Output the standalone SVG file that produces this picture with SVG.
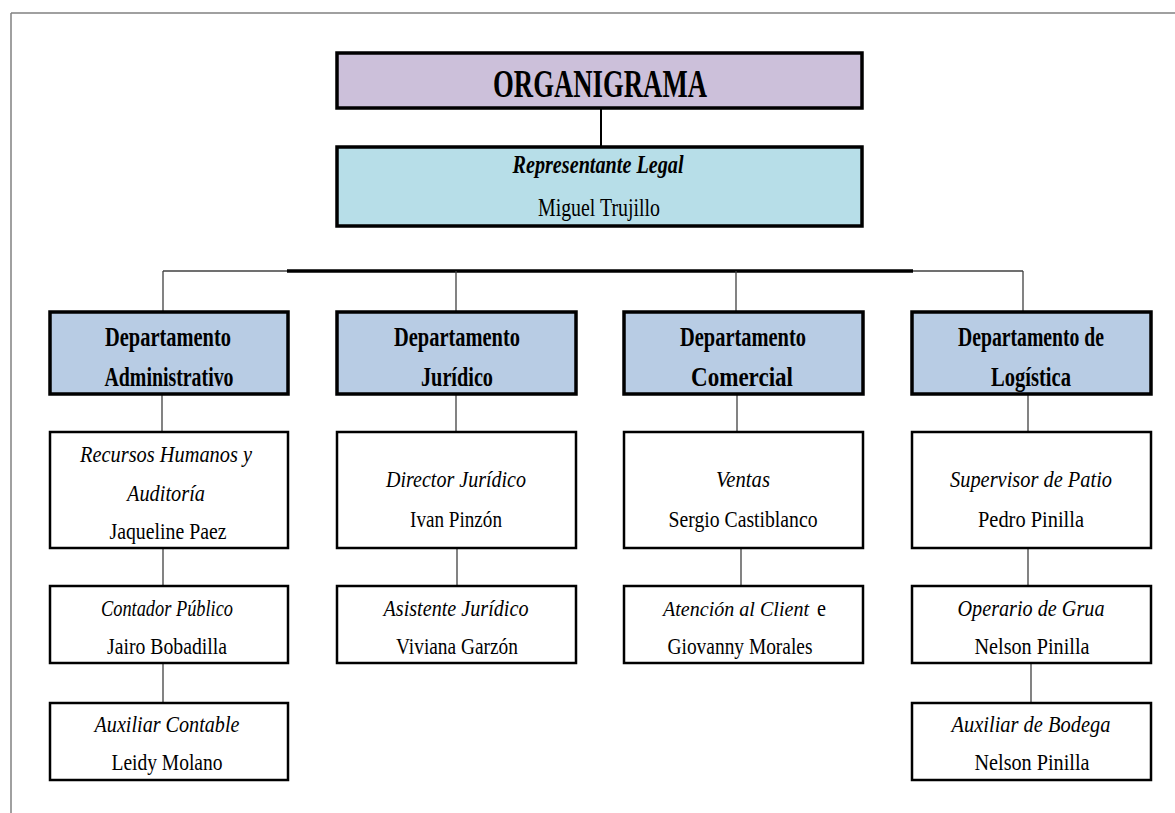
<svg xmlns="http://www.w3.org/2000/svg" width="1175" height="813" viewBox="0 0 1175 813">
<style>
  text { font-family: "Liberation Serif", "Times New Roman", serif; fill: #000; text-anchor: middle; }
  .frame { stroke: #808080; stroke-width: 1.5; fill: none; }
  .title { fill: #CCC0DA; stroke: #000; stroke-width: 3.5; }
  .rep { fill: #B7DEE8; stroke: #000; stroke-width: 3.5; }
  .dept { fill: #B8CCE4; stroke: #000; stroke-width: 3.5; }
  .pos { fill: #FFFFFF; stroke: #000; stroke-width: 2.5; }
  .t-title { font-size: 41px; font-weight: bold; }
  .t-rep { font-size: 26px; }
  .t-dept { font-size: 28px; font-weight: bold; }
  .t-pos { font-size: 23px; }
  .it { font-style: italic; }
  .conn { stroke: #404040; stroke-width: 1.3; fill: none; }
  .conn-main { stroke: #000; stroke-width: 2; fill: none; }
  .bar { stroke: #000; stroke-width: 3.5; fill: none; }
</style>

<g id="frame">
  <line class="frame" x1="11" y1="13" x2="1175" y2="13"/>
  <line class="frame" x1="11" y1="13" x2="11" y2="813"/>
</g>

<g id="connectors">
  <line class="conn-main" x1="601" y1="108" x2="601" y2="147"/>
  <line class="conn" x1="163" y1="271" x2="1023" y2="271"/>
  <line class="bar" x1="287" y1="271" x2="913" y2="271"/>
  <line class="conn" x1="163" y1="271" x2="163" y2="312"/>
  <line class="conn" x1="456" y1="271" x2="456" y2="312"/>
  <line class="conn" x1="736" y1="271" x2="736" y2="312"/>
  <line class="conn" x1="1023" y1="271" x2="1023" y2="312"/>
  <line class="conn" x1="162" y1="394" x2="162" y2="431"/>
  <line class="conn" x1="456" y1="394" x2="456" y2="431"/>
  <line class="conn" x1="737" y1="394" x2="737" y2="431"/>
  <line class="conn" x1="1028" y1="394" x2="1028" y2="431"/>
  <line class="conn" x1="163" y1="548" x2="163" y2="586"/>
  <line class="conn" x1="457" y1="548" x2="457" y2="586"/>
  <line class="conn" x1="741" y1="548" x2="741" y2="586"/>
  <line class="conn" x1="1028" y1="548" x2="1028" y2="586"/>
  <line class="conn" x1="163" y1="663" x2="163" y2="703"/>
  <line class="conn" x1="1031" y1="663" x2="1031" y2="703"/>
</g>

<g id="node-title">
  <rect class="title" x="337" y="53" width="525" height="55"/>
  <text class="t-title" x="600" y="97" textLength="214" lengthAdjust="spacingAndGlyphs">ORGANIGRAMA</text>
</g>

<g id="node-rep">
  <rect class="rep" x="337" y="147" width="525" height="79"/>
  <text class="t-rep it" x="598" y="173" font-weight="bold" textLength="171" lengthAdjust="spacingAndGlyphs">Representante Legal</text>
  <text class="t-rep" x="599" y="216" textLength="122" lengthAdjust="spacingAndGlyphs">Miguel Trujillo</text>
</g>

<g id="node-dept-admin">
  <rect class="dept" x="50" y="312" width="238" height="82"/>
  <text class="t-dept" x="168" y="346" textLength="126" lengthAdjust="spacingAndGlyphs">Departamento</text>
  <text class="t-dept" x="169" y="386" textLength="129" lengthAdjust="spacingAndGlyphs">Administrativo</text>
</g>

<g id="node-dept-jur">
  <rect class="dept" x="337" y="312" width="239" height="82"/>
  <text class="t-dept" x="457" y="346" textLength="126" lengthAdjust="spacingAndGlyphs">Departamento</text>
  <text class="t-dept" x="457" y="386" textLength="72" lengthAdjust="spacingAndGlyphs">Jurídico</text>
</g>

<g id="node-dept-com">
  <rect class="dept" x="624" y="312" width="239" height="82"/>
  <text class="t-dept" x="743" y="346" textLength="126" lengthAdjust="spacingAndGlyphs">Departamento</text>
  <text class="t-dept" x="742" y="386" textLength="102" lengthAdjust="spacingAndGlyphs">Comercial</text>
</g>

<g id="node-dept-log">
  <rect class="dept" x="912" y="312" width="239" height="82"/>
  <text class="t-dept" x="1031" y="346" textLength="146" lengthAdjust="spacingAndGlyphs">Departamento de</text>
  <text class="t-dept" x="1031" y="386" textLength="80" lengthAdjust="spacingAndGlyphs">Logística</text>
</g>

<g id="node-rrhh">
  <rect class="pos" x="50" y="432" width="238" height="116"/>
  <text class="t-pos it" x="166" y="462" textLength="172" lengthAdjust="spacingAndGlyphs">Recursos Humanos y</text>
  <text class="t-pos it" x="166" y="501" textLength="78" lengthAdjust="spacingAndGlyphs">Auditoría</text>
  <text class="t-pos" x="168" y="539" textLength="117" lengthAdjust="spacingAndGlyphs">Jaqueline Paez</text>
</g>

<g id="node-contador">
  <rect class="pos" x="50" y="586" width="238" height="77"/>
  <text class="t-pos it" x="167" y="616" textLength="132" lengthAdjust="spacingAndGlyphs">Contador Público</text>
  <text class="t-pos" x="167" y="654" textLength="120" lengthAdjust="spacingAndGlyphs">Jairo Bobadilla</text>
</g>

<g id="node-auxcont">
  <rect class="pos" x="50" y="703" width="238" height="77"/>
  <text class="t-pos it" x="167" y="732" textLength="145" lengthAdjust="spacingAndGlyphs">Auxiliar Contable</text>
  <text class="t-pos" x="167" y="770" textLength="111" lengthAdjust="spacingAndGlyphs">Leidy Molano</text>
</g>

<g id="node-director">
  <rect class="pos" x="337" y="432" width="239" height="116"/>
  <text class="t-pos it" x="456" y="487" textLength="140" lengthAdjust="spacingAndGlyphs">Director Jurídico</text>
  <text class="t-pos" x="456" y="527" textLength="92" lengthAdjust="spacingAndGlyphs">Ivan Pinzón</text>
</g>

<g id="node-asistente">
  <rect class="pos" x="337" y="586" width="239" height="77"/>
  <text class="t-pos it" x="456" y="616" textLength="145" lengthAdjust="spacingAndGlyphs">Asistente Jurídico</text>
  <text class="t-pos" x="457" y="654" textLength="122" lengthAdjust="spacingAndGlyphs">Viviana Garzón</text>
</g>

<g id="node-ventas">
  <rect class="pos" x="624" y="432" width="239" height="116"/>
  <text class="t-pos it" x="743" y="487" textLength="54" lengthAdjust="spacingAndGlyphs">Ventas</text>
  <text class="t-pos" x="743" y="527" textLength="149" lengthAdjust="spacingAndGlyphs">Sergio Castiblanco</text>
</g>

<g id="node-atencion">
  <rect class="pos" x="624" y="586" width="239" height="77"/>
  <text class="it" x="663" y="616" style="text-anchor:start;font-size:21px" textLength="146" lengthAdjust="spacingAndGlyphs">Atención al Client</text>
  <text class="t-pos" x="817" y="616" style="text-anchor:start" textLength="9" lengthAdjust="spacingAndGlyphs">e</text>
  <text class="t-pos" x="740" y="654" textLength="145" lengthAdjust="spacingAndGlyphs">Giovanny Morales</text>
</g>

<g id="node-supervisor">
  <rect class="pos" x="912" y="432" width="239" height="116"/>
  <text class="t-pos it" x="1031" y="487" textLength="162" lengthAdjust="spacingAndGlyphs">Supervisor de Patio</text>
  <text class="t-pos" x="1031" y="527" textLength="106" lengthAdjust="spacingAndGlyphs">Pedro Pinilla</text>
</g>

<g id="node-operario">
  <rect class="pos" x="912" y="586" width="239" height="77"/>
  <text class="t-pos it" x="1031" y="616" textLength="147" lengthAdjust="spacingAndGlyphs">Operario de Grua</text>
  <text class="t-pos" x="1032" y="654" textLength="115" lengthAdjust="spacingAndGlyphs">Nelson Pinilla</text>
</g>

<g id="node-auxbodega">
  <rect class="pos" x="912" y="703" width="239" height="77"/>
  <text class="t-pos it" x="1031" y="732" textLength="159" lengthAdjust="spacingAndGlyphs">Auxiliar de Bodega</text>
  <text class="t-pos" x="1032" y="770" textLength="115" lengthAdjust="spacingAndGlyphs">Nelson Pinilla</text>
</g>
</svg>
